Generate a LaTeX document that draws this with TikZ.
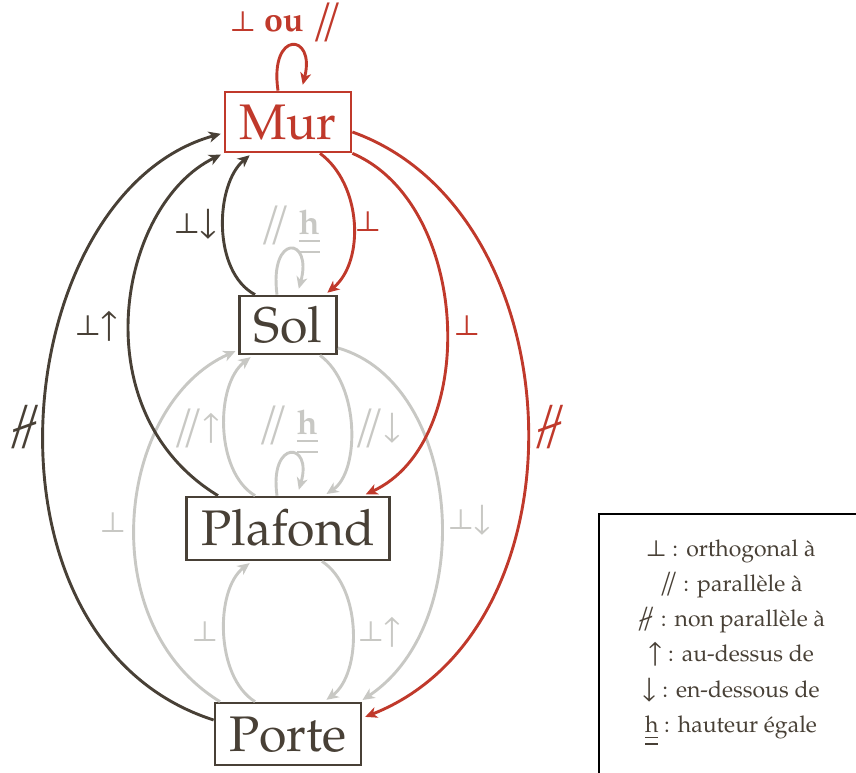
\documentclass[tikz,border=0pt]{standalone}
\usepackage[T1]{fontenc}
\usepackage{pxfonts}
\usetikzlibrary{arrows.meta}
\definecolor{dk}{RGB}{72,64,54}
\definecolor{rd}{RGB}{192,57,43}
\definecolor{gr}{RGB}{200,200,196}
\newcommand{\dblh}[1]{\underline{\underline{#1}}}
\newcommand{\bigpar}{{\vcenter{\hbox{\scalebox{1.3}{$\varparallel$}}}}}
\newcommand{\bignpar}{\vcenter{\hbox{\scalebox{1.45}{$\nvarparallel$}}}}
\tikzset{
  box/.style={draw=dk, text=dk, line width=2.7pt, inner sep=0pt, minimum height=60pt,
    font=\fontsize{50}{60}\selectfont},
  lbl/.style={inner sep=0pt, font=\fontsize{34}{40}\selectfont},
  edge/.style={line width=2.9pt, -{Stealth[length=12pt,width=11pt,inset=3.5pt]}, shorten >=3pt},
}
\begin{document}
\begin{tikzpicture}[x=1pt,y=1pt]
\useasboundingbox (0,0) rectangle (856,773);
% nodes
\node[box, draw=rd, text=rd, minimum width=126pt] (Mur) at (288,651) {Mur};
\node[box, minimum width=97pt, minimum height=58pt] (Sol) at (288,448) {Sol};
\node[box, minimum width=203pt, minimum height=63pt] (Plafond) at (288,244.5) {Plafond};
\node[box, minimum width=146pt, minimum height=62pt] (Porte) at (288,39) {Porte};
% grey edges
\draw[edge, gr] ([xshift=-11pt]Sol.north) .. controls +(-8,62) and +(15,55) .. ([xshift=10pt,yshift=3pt]Sol.north);
\draw[edge, gr] ([xshift=-11pt]Plafond.north) .. controls +(-8,57) and +(15,51) .. ([xshift=10pt,yshift=3pt]Plafond.north);
\draw[edge, gr] ([xshift=-33pt]Plafond.north) .. controls +(-40,24) and +(-38,-29) .. ([xshift=-35pt]Sol.south);
\draw[edge, gr] ([xshift=32pt]Sol.south) .. controls +(40,-29) and +(36,24) .. ([xshift=36pt]Plafond.north);
\draw[edge, gr] ([xshift=-68pt]Porte.north) .. controls +(-130,80) and +(-120,-53) .. ([yshift=-25pt]Sol.west);
\draw[edge, gr] ([yshift=-23pt]Sol.east) .. controls +(124,-35) and +(120,80) .. ([xshift=72pt]Porte.north);
\draw[edge, gr] ([xshift=-33pt]Porte.north) .. controls +(-40,25) and +(-37,-28) .. ([xshift=-36pt]Plafond.south);
\draw[edge, gr] ([xshift=34pt]Plafond.south) .. controls +(40,-26) and +(38,28) .. ([xshift=36pt]Porte.north);
% dark edges
\draw[edge, dk] ([xshift=-33pt]Sol.north) .. controls +(-43,23) and +(-37,-31) .. ([xshift=-36pt]Mur.south);
\draw[edge, dk] ([xshift=-70pt]Plafond.north) .. controls +(-138,84) and +(-105,-51) .. (Mur.south west);
\draw[edge, dk] ([yshift=14pt]Porte.west) .. controls +(-250,80) and +(-215,-60) .. ([yshift=-11pt]Mur.west);
% red edges
\draw[edge, rd] ([xshift=-10pt]Mur.north) .. controls +(-9,61) and +(14,55) .. ([xshift=14pt,yshift=3pt]Mur.north);
\draw[edge, rd] ([xshift=32pt]Mur.south) .. controls +(42,-31) and +(40,33) .. ([xshift=37pt]Sol.north);
\draw[edge, rd] (Mur.south east) .. controls +(119,-51) and +(117,54) .. ([xshift=75pt]Plafond.north);
\draw[edge, rd] ([yshift=-10pt]Mur.east) .. controls +(224,-80) and +(229,90) .. ([yshift=16pt]Porte.east);
% labels
\node[lbl, text=rd] (lmur) at (286,751) {$\perp$ \textbf{ou} $\bigpar$};
\node[lbl, text=rd] (lms) at (368,551) {$\perp$};
\node[lbl, text=dk] (lsm) at (196,549) {$\perp\downarrow$};
\node[lbl, text=gr] (lss) at (290,543) {$\bigpar$ $\dblh{\mathbf{h}}$};
\node[lbl, text=dk] (lpm) at (97,447) {$\perp\uparrow$};
\node[lbl, text=dk] (lpom) at (25,346) {$\bignpar$};
\node[lbl, text=rd] (lmp) at (467,447) {$\perp$};
\node[lbl, text=rd] (lmpo) at (550,346) {$\bignpar$};
\node[lbl, text=gr] (lps) at (197,345) {$\bigpar{\uparrow}$};
\node[lbl, text=gr] (lpp) at (288,343) {$\bigpar$ $\dblh{\mathbf{h}}$};
\node[lbl, text=gr] (lsp) at (378,345) {$\bigpar{\downarrow}$};
\node[lbl, text=gr] (lpos) at (113,250) {$\perp$};
\node[lbl, text=gr] (lspo) at (470,253) {$\perp\downarrow$};
\node[lbl, text=gr] (lpop) at (205,141) {$\perp$};
\node[lbl, text=gr] (lppo) at (380,141) {$\perp\uparrow$};
% legend
\draw[line width=1.5pt, black] (599,-20) -- (599,259) -- (880,259);
\node[align=center, text=dk, font=\fontsize{23}{35.2}\selectfont] (legend) at (731,130)
  {{\fontsize{27}{35.2}\selectfont$\perp$} : orthogonal \`a\\
   {\fontsize{27}{35.2}\selectfont$\varparallel$} : parall\`ele \`a\\
   {\fontsize{27}{35.2}\selectfont$\nvarparallel$} : non parall\`ele \`a\\
   {\fontsize{27}{35.2}\selectfont$\uparrow$} : au-dessus de\\
   {\fontsize{27}{35.2}\selectfont$\downarrow$} : en-dessous de\\
   $\dblh{\mathrm{h}}$ : hauteur \'egale};
\end{tikzpicture}
\end{document}
